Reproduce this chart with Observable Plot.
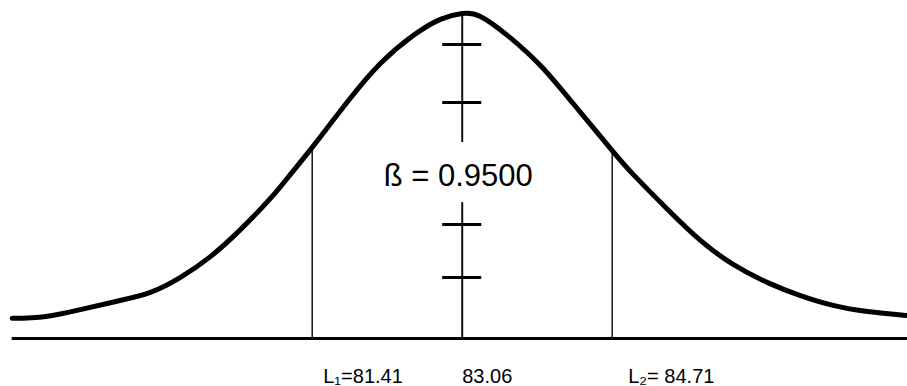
<!DOCTYPE html>
<html>
<head>
<meta charset="utf-8">
<script src="https://cdn.jsdelivr.net/npm/d3@7"></script>
<script src="https://cdn.jsdelivr.net/npm/@observablehq/plot@0.6"></script>
<style>
  html, body { margin: 0; padding: 0; background: #fff; }
  #chart { width: 907px; height: 386px; }
</style>
</head>
<body>
<div id="chart"></div>
<script>
// Sampled outline of the sampling distribution (x = measurement, y = relative height, peak = 1)
const curveX = [78.11, 78.48, 78.86, 79.25, 79.63, 79.96, 80.29, 80.62, 80.95, 81.17, 81.41,
                81.80, 82.16, 82.52, 82.82, 83.06, 83.26, 83.56, 83.92, 84.28, 84.71, 84.94,
                85.32, 85.68, 86.04, 86.42, 86.78, 87.14, 87.52, 87.94];
const curveY = [0.062, 0.068, 0.089, 0.114, 0.142, 0.188, 0.252, 0.335, 0.431, 0.505, 0.588,
                0.729, 0.846, 0.932, 0.982, 1.000, 0.991, 0.932, 0.840, 0.723, 0.578, 0.505,
                0.397, 0.302, 0.228, 0.172, 0.132, 0.102, 0.083, 0.071];

// Confidence limits and the mean
const lowerLimit = 81.41;
const upperLimit = 84.71;
const mean = 83.06;
const lowerLimitHeight = 0.588;
const upperLimitHeight = 0.578;

// Axis labels under the baseline
const labelValues = [81.41, 83.06, 84.71];
const labelTexts = ["L\u2081=81.41", "83.06", "L\u2082= 84.71"];

// Cross marks on the mean line and the gap left for the annotation
const markLevels = [0.905, 0.726, 0.351, 0.188];
const meanSegments = [[0.603, 1.0], [0, 0.418]];
const betaText = "\u00DF = 0.9500";
const betaLevel = 0.50;

const baselineStart = 78.11;
const xDomain = [77.981, 87.958];

const labelOffsets = [11, 0, 16];
const labels = labelValues.map((v, i) => ({x: v, text: labelTexts[i], dx: labelOffsets[i]}));
const segs = meanSegments.map(([y1, y2]) => ({x: mean, y1, y2}));
const curve = curveX.map((x, i) => ({x, y: curveY[i]}));

const halfBar = 0.215;

const chart = Plot.plot({
  width: 907,
  height: 386,
  marginLeft: 0,
  marginRight: 0,
  marginTop: 13,
  marginBottom: 48,
  x: {domain: xDomain, axis: null},
  y: {domain: [0, 1], axis: null},
  style: {fontFamily: "'Liberation Sans', Arial, Helvetica, sans-serif", background: "#fff", color: "#000"},
  marks: [
    // baseline
    Plot.ruleY([0], {x1: baselineStart, x2: xDomain[1], stroke: "#000", strokeWidth: 3}),
    // confidence limits
    Plot.ruleX([lowerLimit], {y1: 0, y2: lowerLimitHeight, stroke: "#222", strokeWidth: 1.6}),
    Plot.ruleX([upperLimit], {y1: 0, y2: upperLimitHeight, stroke: "#222", strokeWidth: 1.6}),
    // mean line, broken around the annotation
    Plot.ruleX(segs, {x: "x", y1: "y1", y2: "y2", stroke: "#111", strokeWidth: 2}),
    // cross marks on the mean line
    Plot.ruleY(markLevels, {y: d => d, x1: mean - halfBar, x2: mean + halfBar, stroke: "#000", strokeWidth: 3}),
    // distribution curve
    Plot.line(curve, {x: "x", y: "y", curve: "natural", stroke: "#000", strokeWidth: 5, strokeLinejoin: "round", strokeLinecap: "round"}),
    // coverage annotation
    Plot.text([betaText], {x: mean, y: betaLevel, text: d => d, dx: -4, fontSize: 31, textAnchor: "middle", fill: "#000"}),
    // labels under the baseline
    ...labels.map(l => Plot.text([l], {x: "x", y: 0, text: "text", dx: l.dx, dy: 38, fontSize: 20, textAnchor: "start", fill: "#000"}))
  ]
});

document.getElementById("chart").appendChild(chart);
</script>
</body>
</html>
